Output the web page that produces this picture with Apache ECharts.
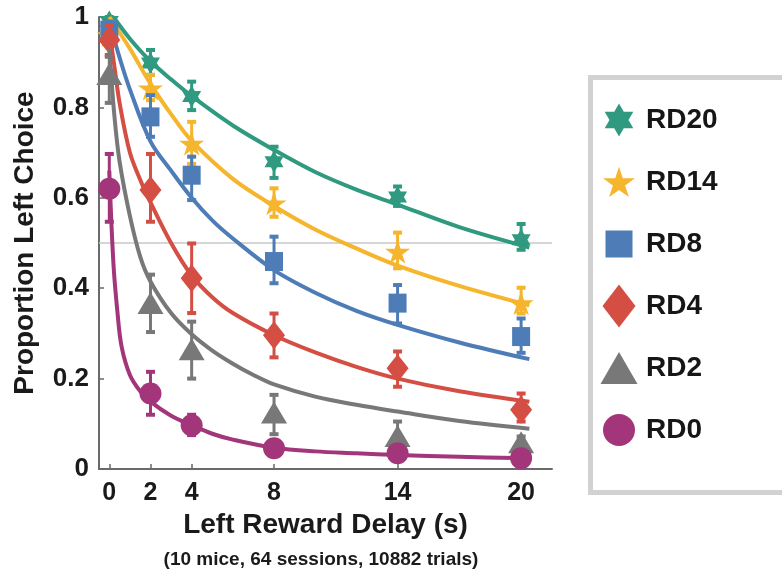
<!DOCTYPE html>
<html>
<head>
<meta charset="utf-8">
<script src="https://cdn.jsdelivr.net/npm/echarts@6/dist/echarts.min.js"></script>
<style>
  html, body { margin: 0; padding: 0; background: #ffffff; }
  #chart { width: 782px; height: 573px; }
</style>
</head>
<body>
<div id="chart"></div>
<script>
// ---- data ----------------------------------------------------------------
const delays = [0, 2, 4, 8, 14, 20];          // left reward delay (s)
const xTicks = [0, 2, 4, 8, 14, 20];
const refLevel = 0.5;                         // indifference line

const groups = ['RD20', 'RD14', 'RD8', 'RD4', 'RD2', 'RD0'];

// mean proportion of left choices per delay, with error bar bounds
const meanRD20 = [0.99, 0.898, 0.824, 0.68, 0.602, 0.507];
const lowRD20  = [0.975, 0.872, 0.794, 0.644, 0.582, 0.485];
const highRD20 = [1.0, 0.927, 0.857, 0.713, 0.625, 0.542];

const meanRD14 = [0.96, 0.842, 0.72, 0.588, 0.481, 0.367];
const lowRD14  = [0.94, 0.816, 0.675, 0.558, 0.444, 0.344];
const highRD14 = [0.98, 0.872, 0.768, 0.621, 0.523, 0.401];

const meanRD8 = [0.971, 0.779, 0.65, 0.459, 0.367, 0.293];
const lowRD8  = [0.95, 0.735, 0.595, 0.411, 0.322, 0.257];
const highRD8 = [0.99, 0.827, 0.691, 0.514, 0.407, 0.333];

const meanRD4 = [0.949, 0.617, 0.422, 0.296, 0.223, 0.131];
const lowRD4  = [0.916, 0.547, 0.345, 0.247, 0.182, 0.105];
const highRD4 = [0.982, 0.697, 0.499, 0.344, 0.26, 0.167];

const meanRD2 = [0.874, 0.367, 0.265, 0.125, 0.073, 0.059];
const lowRD2  = [0.81, 0.303, 0.20, 0.077, 0.05, 0.045];
const highRD2 = [0.912, 0.43, 0.326, 0.164, 0.105, 0.072];

const meanRD0 = [0.62, 0.167, 0.097, 0.046, 0.035, 0.024];
const lowRD0  = [0.547, 0.12, 0.075, 0.037, 0.029, 0.018];
const highRD0 = [0.697, 0.215, 0.12, 0.056, 0.042, 0.03];

// fitted discounting curves (delay, proportion)
const fitXRD20 = [0.2, 1, 2, 3, 4, 6, 8, 10, 12, 14, 17, 20.4];
const fitYRD20 = [1.0, 0.952, 0.902, 0.862, 0.825, 0.76, 0.706, 0.657, 0.618, 0.585, 0.535, 0.49];

const fitXRD14 = [0, 1, 2, 3, 4, 6, 8, 10, 12, 14, 17, 20.4];
const fitYRD14 = [1.0, 0.93, 0.852, 0.785, 0.726, 0.642, 0.582, 0.53, 0.488, 0.45, 0.405, 0.362];

const fitXRD8 = [0, 0.5, 1, 2, 3, 4, 5, 6, 8, 10, 12, 14, 17, 20.4];
const fitYRD8 = [0.99, 0.91, 0.84, 0.725, 0.66, 0.60, 0.55, 0.51, 0.44, 0.39, 0.35, 0.319, 0.28, 0.243];

const fitXRD4 = [0, 0.25, 0.5, 1, 1.5, 2, 3, 4, 5, 6, 8, 10, 12, 14, 17, 20.4];
const fitYRD4 = [0.97, 0.89, 0.81, 0.70, 0.64, 0.59, 0.5, 0.428, 0.38, 0.345, 0.296, 0.258, 0.226, 0.20, 0.172, 0.149];

const fitXRD2 = [0, 0.25, 0.5, 1, 1.5, 2, 3, 4, 5, 6, 7, 8, 10, 12, 14, 17, 20.4];
const fitYRD2 = [0.93, 0.78, 0.68, 0.56, 0.47, 0.415, 0.345, 0.298, 0.262, 0.233, 0.208, 0.187, 0.16, 0.142, 0.127, 0.106, 0.089];

const fitXRD0 = [0, 0.2, 0.4, 0.6, 1, 1.5, 2, 3, 4, 5, 6, 8, 10, 12, 14, 17, 20.4];
const fitYRD0 = [0.66, 0.455, 0.345, 0.27, 0.208, 0.172, 0.149, 0.118, 0.097, 0.078, 0.065, 0.047, 0.039, 0.035, 0.031, 0.027, 0.024];

const table = {
  RD20: { mean: meanRD20, low: lowRD20, high: highRD20, fx: fitXRD20, fy: fitYRD20 },
  RD14: { mean: meanRD14, low: lowRD14, high: highRD14, fx: fitXRD14, fy: fitYRD14 },
  RD8:  { mean: meanRD8,  low: lowRD8,  high: highRD8,  fx: fitXRD8,  fy: fitYRD8 },
  RD4:  { mean: meanRD4,  low: lowRD4,  high: highRD4,  fx: fitXRD4,  fy: fitYRD4 },
  RD2:  { mean: meanRD2,  low: lowRD2,  high: highRD2,  fx: fitXRD2,  fy: fitYRD2 },
  RD0:  { mean: meanRD0,  low: lowRD0,  high: highRD0,  fx: fitXRD0,  fy: fitYRD0 }
};

// ---- styling ---------------------------------------------------------------
const FONT = '"Liberation Sans", Arial, Helvetica, sans-serif';
const colors = {
  RD20: '#2f9a7f', RD14: '#f5b52c', RD8: '#4e7cb6',
  RD4: '#d54e43', RD2: '#787878', RD0: '#a3357a'
};

function pt(cx, cy, r, deg) {
  const a = deg * Math.PI / 180;
  return [(cx + r * Math.cos(a)).toFixed(2), (cy + r * Math.sin(a)).toFixed(2)];
}
function poly(points) {
  return 'M' + points.map(p => p[0] + ' ' + p[1]).join('L') + 'Z';
}
function starShape(cx, cy, R) {
  const pts = [];
  for (let k = 0; k < 10; k++) pts.push(pt(cx, cy, k % 2 ? R * 0.382 : R, -90 + 36 * k));
  return poly(pts);
}
function hexagramShape(cx, cy, R) {
  return poly([0, 120, 240].map(a => pt(cx, cy, R, -90 + a))) +
         poly([0, 120, 240].map(a => pt(cx, cy, R, 90 + a)));
}

// marker symbols in the plot
const markerSymbol = {
  RD20: { symbol: 'path://' + hexagramShape(0, 0, 10), size: [19, 22] },
  RD14: { symbol: 'path://' + starShape(0, 0, 10), size: [25, 24] },
  RD8:  { symbol: 'rect', size: [18, 19] },
  RD4:  { symbol: 'diamond', size: [22, 28] },
  RD2:  { symbol: 'triangle', size: [26, 22] },
  RD0:  { symbol: 'circle', size: 22 }
};

// legend icons drawn in a fixed 44x44 frame so each keeps its own size
const FR = 'M0 0M44 44';
const legendIcon = {
  RD20: 'path://' + FR + hexagramShape(22, 22, 16.5),
  RD14: 'path://' + FR + starShape(22, 23.5, 16.8),
  RD8:  'path://' + FR + 'M8.5 8.5L35.5 8.5L35.5 35.5L8.5 35.5Z',
  RD4:  'path://' + FR + 'M5.5 22L22 0.5L38.5 22L22 43.5Z',
  RD2:  'path://' + FR + 'M3.5 38L22 6L40.5 38Z',
  RD0:  'path://' + FR + 'M6 22A16 16 0 1 1 38 22A16 16 0 1 1 6 22Z'
};

function renderErrorBar(params, api) {
  const x = api.value(0);
  const pLo = api.coord([x, api.value(1)]);
  const pHi = api.coord([x, api.value(2)]);
  const color = api.visual('color');
  const capW = 9, capH = 4;
  return {
    type: 'group',
    children: [
      { type: 'line', shape: { x1: pLo[0], y1: pLo[1], x2: pHi[0], y2: pHi[1] },
        style: { stroke: color, lineWidth: 3 } },
      { type: 'rect', shape: { x: pHi[0] - capW / 2, y: pHi[1] - capH / 2, width: capW, height: capH },
        style: { fill: color } },
      { type: 'rect', shape: { x: pLo[0] - capW / 2, y: pLo[1] - capH / 2, width: capW, height: capH },
        style: { fill: color } }
    ]
  };
}

// ---- series ----------------------------------------------------------------
const series = [{
  name: 'indifference',
  type: 'line',
  data: [[-0.5, refLevel], [21.5, refLevel]],
  showSymbol: false,
  silent: true,
  lineStyle: { color: '#c9c9c9', width: 1.5 },
  z: 1
}];

groups.forEach((g, i) => {
  const d = table[g];
  const c = colors[g];
  series.push({
    name: g + ' fit',
    type: 'line',
    data: d.fx.map((x, k) => [x, d.fy[k]]),
    showSymbol: false,
    smooth: 0.35,
    lineStyle: { color: c, width: 4, cap: 'butt', join: 'round' },
    itemStyle: { color: c },
    z: 2 + i * 3
  });
  series.push({
    name: g + ' err',
    type: 'custom',
    renderItem: renderErrorBar,
    encode: { x: 0, y: [1, 2] },
    data: delays.map((x, k) => [x, d.low[k], d.high[k]]),
    itemStyle: { color: c },
    z: 3 + i * 3
  });
  series.push({
    name: g,
    type: 'scatter',
    data: delays.map((x, k) => [x, d.mean[k]]),
    symbol: markerSymbol[g].symbol,
    symbolSize: markerSymbol[g].size,
    itemStyle: { color: c, opacity: 1 },
    z: 4 + i * 3
  });
});

const chart = echarts.init(document.getElementById('chart'), null, { renderer: 'canvas' });

chart.setOption({
  animation: false,
  backgroundColor: '#ffffff',
  textStyle: { fontFamily: FONT },
  grid: { left: 99, right: 230, top: 17, bottom: 104, containLabel: false },
  xAxis: {
    type: 'value',
    min: -0.5,
    max: 21.5,
    name: 'Left Reward Delay (s)',
    nameLocation: 'middle',
    nameGap: 41,
    nameTextStyle: { fontFamily: FONT, fontSize: 28, fontWeight: 'bold', color: '#1a1a1a' },
    axisLine: { show: true, onZero: false, lineStyle: { color: '#6a6a6a', width: 2 } },
    axisTick: { show: true, inside: true, length: 5, customValues: xTicks,
                lineStyle: { color: '#6a6a6a', width: 1.5 } },
    axisLabel: { customValues: xTicks, margin: 12, fontFamily: FONT, fontSize: 25,
                 fontWeight: 'bold', color: '#1a1a1a' },
    splitLine: { show: false }
  },
  yAxis: {
    type: 'value',
    min: 0,
    max: 1,
    interval: 0.2,
    name: 'Proportion Left Choice',
    nameLocation: 'middle',
    nameGap: 60,
    nameTextStyle: { fontFamily: FONT, fontSize: 28, fontWeight: 'bold', color: '#1a1a1a' },
    axisLine: { show: true, onZero: false, lineStyle: { color: '#6a6a6a', width: 2 } },
    axisTick: { show: true, inside: true, length: 5, lineStyle: { color: '#6a6a6a', width: 1.5 } },
    axisLabel: {
      margin: 10, fontFamily: FONT, fontSize: 26, fontWeight: 'bold', color: '#1a1a1a',
      formatter: v => String(parseFloat(v.toFixed(1)))
    },
    splitLine: { show: false }
  },
  legend: {
    orient: 'vertical',
    left: 590.5,
    top: 77.5,
    padding: [20.5, 110, 40.5, 6.5],
    itemWidth: 44,
    itemHeight: 44,
    itemGap: 18,
    symbolKeepAspect: true,
    backgroundColor: '#ffffff',
    borderColor: '#d2d2d2',
    borderWidth: 5,
    borderRadius: 0,
    selectedMode: false,
    textStyle: { fontFamily: FONT, fontSize: 28, fontWeight: 'bold', color: '#161616' },
    data: groups.map(g => ({ name: g, icon: legendIcon[g] }))
  },
  graphic: [{
    type: 'text',
    x: 321,
    y: 560,
    silent: true,
    style: {
      text: '(10 mice, 64 sessions, 10882 trials)',
      fontFamily: FONT, fontSize: 19, fontWeight: 'bold', fill: '#1a1a1a',
      align: 'center', verticalAlign: 'middle'
    }
  }],
  series: series
});
</script>
</body>
</html>
